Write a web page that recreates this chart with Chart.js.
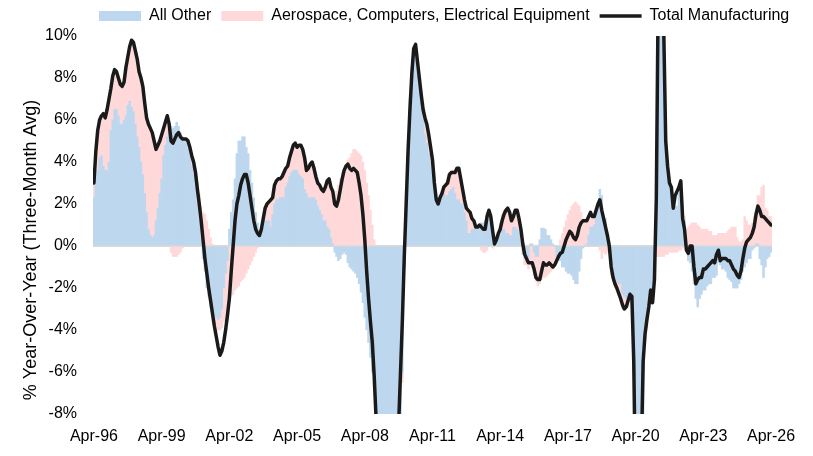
<!DOCTYPE html>
<html>
<head>
<meta charset="utf-8">
<script src="https://cdn.jsdelivr.net/npm/chart.js@4.4.1/dist/chart.umd.min.js"></script>
<style>
html,body{margin:0;padding:0;background:#fff;}
#wrap{width:813px;height:456px;}
</style>
</head>
<body>
<div id="wrap"><canvas id="c" width="813" height="456"></canvas></div>
<script>
// Monthly categories: Apr-96 .. Apr-26
const MONTHS = ['Jan','Feb','Mar','Apr','May','Jun','Jul','Aug','Sep','Oct','Nov','Dec'];
const categories = [];
for (let k = 0; k < 361; k++) {
  const m = (3 + k) % 12;
  const yy = (1996 + Math.floor((3 + k) / 12)) % 100;
  categories.push(MONTHS[m] + '-' + String(yy).padStart(2, '0'));
}
const tickLabels = ['Apr-96','Apr-99','Apr-02','Apr-05','Apr-08','Apr-11','Apr-14','Apr-17','Apr-20','Apr-23','Apr-26'];

const allOther = [2.3,3.3,3.6,4.2,4.3,3.8,3.6,3.6,4.0,5.5,
6.0,6.5,6.5,6.2,5.8,5.8,6.0,6.2,6.7,6.9,
6.6,6.4,5.8,5.2,4.7,4.0,3.4,2.5,1.6,0.8,
0.5,0.4,0.5,1.2,1.8,2.5,3.2,4.3,4.8,5.2,
5.6,5.7,5.6,5.7,5.9,5.7,5.4,5.2,5.0,4.9,
4.6,4.3,3.8,3.4,2.8,2.0,1.2,0.4,-0.6,-1.2,
-2.0,-2.4,-2.9,-3.1,-3.3,-3.4,-3.5,-3.4,-3.0,-2.0,
-1.3,-0.7,0.8,1.6,2.2,3.2,4.4,5.0,5.0,5.2,
5.2,4.7,4.4,3.6,3.0,2.3,1.6,1.1,0.6,0.8,
0.9,1.2,1.2,1.2,0.9,1.5,2.0,2.2,2.2,2.3,
2.3,2.3,2.8,3.0,3.3,3.5,3.6,3.6,3.6,3.4,
3.3,3.2,2.7,2.5,2.3,2.3,2.3,2.3,2.2,1.9,
1.7,1.5,1.2,1.2,0.9,0.8,0.4,0.1,-0.3,-0.5,
-0.7,-0.6,-0.4,-0.3,-0.4,-0.8,-1.0,-1.1,-1.2,-1.3,
-1.5,-1.8,-2.2,-2.7,-3.4,-4.0,-4.6,-5.3,-6.0,-6.8,
-8.5,-10,-12,-13.5,-15,-16,-16.5,-16.5,-16,-15,
-13.5,-12,-10.5,-9,-6,-1,2.5,5.0,7.0,8.5,
9.3,9.0,8.2,7.5,6.8,6.0,5.3,4.9,4.4,4.0,
3.5,2.6,2.3,2.3,2.4,2.3,2.5,2.4,2.4,2.6,
2.7,2.8,2.5,2.2,2.2,2.0,2.0,1.6,1.2,0.6,
0.6,0.8,0.8,0.9,0.9,1.0,1.1,1.1,1.2,1.6,
1.6,1.4,0.8,0.1,0.2,0.3,0.5,0.8,0.8,0.6,
0.6,0.5,0.5,0.9,0.9,0.8,0.6,0.2,-0.4,-0.6,
-0.6,-0.6,0.1,0.1,-0.3,-0.5,-0.5,0.3,0.85,0.85,
0.8,0.5,0.5,0.3,0.1,0.0,-0.5,-0.6,-0.7,-1.0,
-1.0,-1.2,-1.3,-1.3,-1.4,-1.6,-1.8,-1.8,-1.2,-0.6,
-0.1,0.0,0.1,0.5,0.9,0.9,1.0,1.6,2.0,2.7,
2.4,1.4,1.3,0.6,0.2,-1.0,-1.1,-1.5,-1.7,-1.8,
-1.8,-2.3,-2.4,-2.5,-2.6,-2.3,-2.8,-6,-12,-16,
-17,-14,-9,-4.0,-3.5,-2.5,-2.0,-1.8,-1.0,0.5,
12,17,18,10,4.3,3.3,3.0,2.6,2.3,1.9,
1.9,2.5,3.1,1.6,1.2,0.0,-0.7,-0.8,-1.2,-1.8,
-2.5,-2.9,-2.5,-2.3,-2.1,-2.1,-1.9,-1.8,-1.8,-1.5,
-1.5,-1.4,-0.8,-0.9,-1.1,-1.1,-1.2,-1.5,-1.6,-1.7,
-2.0,-2.0,-2.0,-1.8,-1.6,-1.2,-1.0,-0.8,-0.6,-0.6,
-0.2,-0.1,0.1,0.1,-0.6,-0.9,-1.5,-1.0,-0.6,-0.5,-0.3];

const aeroCompElec = [0.7,1.2,1.9,1.8,1.9,2.5,2.5,2.9,3.0,2.0,
2.1,1.9,1.8,1.8,1.9,1.8,1.8,2.3,2.3,2.6,
3.2,3.3,3.5,3.7,3.6,4.0,4.2,4.3,4.5,5.0,
5.1,5.0,4.5,3.4,3.0,2.5,2.1,1.3,1.1,1.0,
0.2,-0.3,-0.5,-0.5,-0.5,-0.4,-0.3,-0.1,0.1,0.2,
0.4,0.4,0.5,0.6,0.7,1.0,1.3,1.5,1.6,1.5,
1.2,0.8,0.4,0.1,-0.2,-0.4,-0.5,-0.6,-0.9,-1.6,
-2.2,-2.6,-2.5,-2.4,-2.3,-2.1,-2.0,-1.9,-1.7,-1.6,
-1.5,-1.3,-1.1,-0.9,-0.7,-0.5,-0.3,-0.1,0.0,0.0,
0.4,0.6,0.8,0.9,1.3,0.8,0.9,0.9,1.0,0.9,
1.0,1.2,0.9,0.8,0.9,1.0,1.2,1.3,1.1,1.4,
1.5,1.4,1.5,1.1,1.4,1.6,1.7,1.4,1.1,1.1,
1.2,1.2,1.4,1.6,2.2,2.4,2.4,2.5,2.4,2.6,
2.9,3.2,3.5,3.7,3.9,4.1,4.2,4.4,4.6,4.6,
4.5,4.4,4.3,4.0,3.6,3.0,2.4,1.7,1.0,0.3,
0.0,-0.5,-0.5,-0.5,-0.5,-0.5,-0.5,-0.5,-0.5,-0.5,
-0.5,-0.5,-0.5,-0.5,-0.5,0.0,0.0,0.0,0.0,0.0,
0.2,0.5,0.6,0.6,0.6,0.8,0.9,0.9,0.7,0.5,
0.4,0.3,0.0,0.0,0.0,0.2,0.4,0.6,0.7,0.9,
0.9,0.8,1.1,1.5,1.5,1.3,0.8,0.6,0.6,1.0,
1.0,0.6,0.4,0.1,0.0,0.0,-0.2,-0.3,-0.3,-0.2,
0.0,0.0,-0.1,0.0,0.1,0.3,0.6,0.7,0.9,1.2,
1.2,1.2,0.8,0.6,0.8,0.9,0.7,0.4,0.2,-0.3,
-0.3,-0.5,-0.9,-1.0,-1.1,-1.2,-1.4,-1.8,-1.6,-1.5,
-1.5,-1.4,-1.3,-1.2,-1.1,-0.9,-0.3,0.0,0.3,0.6,
0.9,1.2,1.5,1.7,1.9,2.0,2.1,2.0,1.9,1.6,
1.3,1.2,1.1,0.9,0.6,0.5,0.5,0.2,0.0,-0.2,
-0.6,-0.3,-0.4,-0.3,-0.3,-0.4,-0.6,-0.5,-0.5,-0.6,
-0.8,-0.7,-0.6,-0.4,-0.3,-0.2,-0.2,-0.2,-0.3,-0.5,
-0.5,-0.5,-0.5,-0.6,-0.4,-0.4,-0.3,-0.3,-0.4,-0.5,
-0.5,-0.5,-0.5,-0.5,-0.4,-0.4,-0.3,-0.3,-0.3,-0.3,
-0.3,-0.2,-0.2,-0.1,0.2,0.6,0.9,1.0,1.1,1.1,
1.1,1.0,0.9,0.8,0.8,0.8,0.8,0.7,0.7,0.5,
0.5,0.5,0.6,0.6,0.6,0.6,0.6,0.7,0.8,0.9,
0.9,0.9,0.4,0.2,0.2,0.3,1.4,1.2,1.0,1.0,
1.1,1.4,1.5,2.3,2.4,2.8,2.9,1.8,1.7,1.4,1.4];

const totalManufacturing = [3.0,4.5,5.5,6.0,6.2,6.3,6.1,6.5,7.0,7.5,
8.1,8.4,8.3,8.0,7.7,7.6,7.8,8.5,9.0,9.5,
9.8,9.7,9.3,8.9,8.3,8.0,7.6,6.8,6.1,5.8,
5.6,5.4,5.0,4.6,4.8,5.0,5.3,5.6,5.9,6.2,
5.8,5.0,4.9,5.1,5.3,5.4,5.2,5.1,5.1,5.1,
5.0,4.7,4.3,4.0,3.5,2.7,2.0,1.2,0.3,-0.6,
-1.3,-2.0,-2.6,-3.2,-3.8,-4.3,-4.8,-5.2,-5.0,-4.6,
-4.0,-3.3,-2.5,-1.2,0.0,1.2,2.0,2.4,2.9,3.2,
3.4,3.4,3.0,2.4,1.8,1.2,0.8,0.6,0.5,0.8,
1.3,1.8,2.0,2.1,2.2,2.3,2.9,3.1,3.2,3.2,
3.3,3.5,3.7,3.8,4.2,4.5,4.8,4.9,4.7,4.8,
4.8,4.6,4.2,3.6,3.7,3.9,4.0,3.7,3.3,3.0,
2.9,2.7,2.6,2.8,3.1,3.2,2.8,2.6,2.0,1.9,
2.2,2.7,3.2,3.6,3.8,3.9,3.7,3.6,3.7,3.6,
3.5,3.0,2.4,1.5,0.3,-1.2,-2.5,-3.6,-4.6,-6.2,
-8.2,-10,-12,-14,-15.5,-16.5,-17,-17,-16,-14.5,
-12.5,-10.5,-8.5,-6.0,-3.5,-0.5,2.0,4.5,6.5,8.2,
9.4,9.6,8.8,8.0,7.2,6.5,6.1,5.8,5.3,4.7,
4.1,3.0,2.2,2.0,2.3,2.5,2.8,2.9,3.0,3.4,
3.5,3.5,3.5,3.7,3.7,3.2,2.7,2.2,1.8,1.7,
1.6,1.3,1.2,0.9,0.9,1.0,0.9,0.8,0.8,1.4,
1.7,1.4,0.7,0.1,0.3,0.6,0.8,1.2,1.5,1.7,
1.8,1.6,1.2,1.4,1.7,1.7,1.3,0.8,0.1,-0.4,
-0.6,-0.8,-0.8,-0.8,-1.1,-1.5,-1.6,-1.6,-1.2,-0.8,
-0.9,-0.9,-0.8,-0.9,-1.0,-0.9,-0.7,-0.5,-0.35,-0.3,
0.0,0.3,0.5,0.7,0.6,0.4,0.3,0.5,0.9,1.1,
1.2,1.2,1.2,1.4,1.6,1.4,1.4,1.7,2.0,2.2,
1.7,1.3,0.9,0.5,0.0,-1.0,-1.5,-1.8,-2.0,-2.25,
-2.5,-2.8,-3.0,-2.9,-2.6,-2.3,-2.4,-5.5,-12,-16,
-16,-10,-5.5,-4.2,-3.5,-2.9,-2.1,-2.7,-1.6,2.3,
12,17,18,10,5.0,3.8,3.0,2.8,1.8,2.4,
2.6,2.8,3.1,1.3,0.8,-0.2,-0.35,0.0,0.0,-1.0,
-1.8,-1.6,-1.5,-1.5,-1.1,-1.1,-1.0,-0.9,-0.8,-0.7,
-0.8,-0.4,-0.2,-0.7,-0.6,-0.6,-0.6,-0.7,-0.7,-0.9,
-1.1,-1.2,-1.4,-1.5,-1.2,-0.6,-0.1,0.2,0.3,0.4,
0.6,0.9,1.5,1.9,1.7,1.4,1.4,1.3,1.2,1.1,1.0];

const FONT = "'Liberation Sans', Arial, Helvetica, sans-serif";
Chart.defaults.font.family = FONT;
Chart.defaults.font.size = 16;
Chart.defaults.color = '#000';

const layoutFix = {
  id: 'layoutFix',
  afterLayout(chart) {
    const lg = chart.legend;
    if (lg) {
      const w = lg.right - lg.left;
      lg.left = 89; lg.right = 89 + w;
      lg.top = -2;
    }
  },
  afterDraw(chart) {
    const ctx = chart.ctx;
    ctx.save();
    ctx.translate(31, 250);
    ctx.rotate(-Math.PI / 2);
    ctx.font = '18px ' + FONT;
    ctx.fillStyle = '#000';
    ctx.textAlign = 'center';
    ctx.textBaseline = 'middle';
    ctx.fillText('% Year-Over-Year (Three-Month Avg)', 0, 0);
    ctx.restore();
  }
};

new Chart(document.getElementById('c'), {
  type: 'bar',
  data: {
    labels: categories,
    datasets: [
      { type: 'bar', label: 'All Other', data: allOther, backgroundColor: '#bdd7ee',
        stack: 's', barPercentage: 1, categoryPercentage: 1, borderWidth: 0, order: 1, clip: 0, pointStyle: 'rect' },
      { type: 'bar', label: 'Aerospace, Computers, Electrical Equipment', data: aeroCompElec, backgroundColor: '#ffd9da',
        stack: 's', barPercentage: 1, categoryPercentage: 1, borderWidth: 0, order: 1, clip: 0, pointStyle: 'rect' },
      { type: 'line', label: 'Total Manufacturing', data: totalManufacturing, borderColor: '#1a1a1a', backgroundColor: '#1a1a1a',
        borderWidth: 3.5, pointRadius: 0, tension: 0, stack: 'line', order: 0, clip: 0, pointStyle: 'line',
        borderJoinStyle: 'round', borderCapStyle: 'round' }
    ]
  },
  options: {
    responsive: false,
    animation: false,
    devicePixelRatio: 1,
    layout: { padding: { left: 0, right: 41, top: 0, bottom: 0 } },
    plugins: {
      legend: {
        display: true,
        position: 'top',
        align: 'start',
        labels: {
          usePointStyle: true,
          pointStyleWidth: 42,
          boxHeight: 10,
          padding: 10,
          color: '#000',
          font: { size: 16, family: FONT },
          sort: (a, b) => a.datasetIndex - b.datasetIndex
        }
      },
      tooltip: { enabled: false }
    },
    scales: {
      x: {
        type: 'category',
        stacked: true,
        grid: { display: false, drawTicks: false },
        border: { display: false },
        afterFit: (s) => { s.height = 42; },
        ticks: {
          autoSkip: false,
          maxRotation: 0,
          minRotation: 0,
          padding: 13,
          color: '#000',
          font: { size: 16 },
          callback: function(v, i) {
            const lab = categories[i];
            return tickLabels.includes(lab) ? lab : '';
          }
        }
      },
      y: {
        stacked: true,
        min: -8,
        max: 10,
        afterFit: (s) => { s.width = 93; },
        grid: {
          drawTicks: false,
          lineWidth: 2,
          color: (c) => (c.tick && c.tick.value === 0) ? '#d9d9d9' : 'rgba(0,0,0,0)'
        },
        border: { display: false },
        ticks: {
          stepSize: 2,
          padding: 16,
          color: '#000',
          font: { size: 16 },
          callback: (v) => v + '%'
        }
      }
    }
  },
  plugins: [layoutFix]
});
</script>
</body>
</html>
